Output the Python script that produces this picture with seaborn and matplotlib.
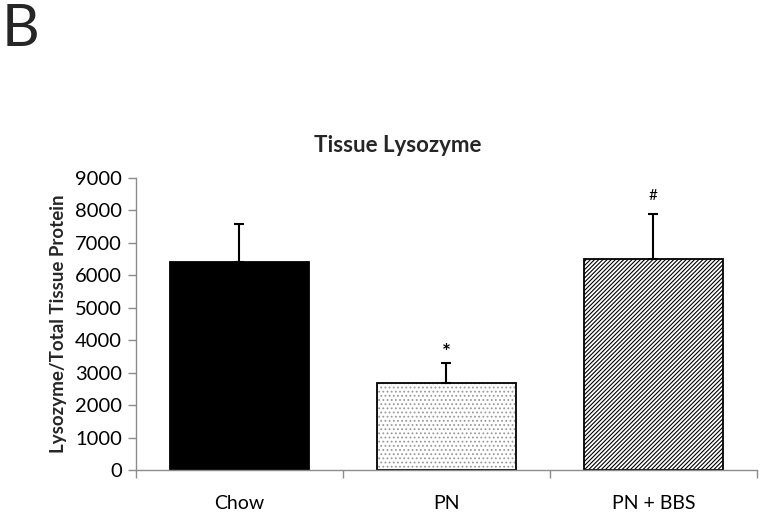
import matplotlib
matplotlib.use("Agg")
import matplotlib.pyplot as plt
import seaborn as sns
import numpy as np
import pandas as pd

categories = ["Chow", "PN", "PN + BBS"]
means = [6410, 2690, 6500]
sd_upper = [1170, 610, 1390]
marks = ["", "*", "#"]
yticks = [0, 1000, 2000, 3000, 4000, 5000, 6000, 7000, 8000, 9000]

sns.set_theme(style="white")
plt.rcParams['font.family'] = ['Lato', 'DejaVu Sans']
plt.rcParams['hatch.linewidth'] = 0.8

df = pd.DataFrame({"group": categories, "value": means})

fig = plt.figure(figsize=(7.64, 5.16), dpi=100)
ax = fig.add_axes([136/764, 1-470/516, (757-136)/764, (470-178)/516])

sns.barplot(data=df, x="group", y="value", ax=ax, order=categories,
            color="white", width=0.67, edgecolor="black", linewidth=1.3,
            errorbar=None)

patches = ax.patches
patches[0].set_facecolor("black")
patches[1].set_facecolor("white")
patches[1].set_hatch("....")
patches[1].set_edgecolor("black")
patches[2].set_facecolor("white")
patches[2].set_hatch("////////")

patches[1]._hatch_color = (0.6, 0.6, 0.6, 1.0)

xs = np.arange(len(categories))
ax.errorbar(xs, means, yerr=[np.zeros(len(means)), sd_upper], fmt="none",
            ecolor="black", elinewidth=1.5, capsize=3.5, capthick=1.5, zorder=5)

for x, m, s, t in zip(xs, means, sd_upper, marks):
    if t:
        off = 320 if t == "*" else 550
        ax.text(x, m + s + off, t, ha="center", va="center",
                fontsize=15 if t == "*" else 11, color="black",
                fontweight="bold" if t == "*" else "normal")

ax.set_ylim(0, 9000)
ax.set_xlim(-0.5, 2.5)
ax.set_yticks(yticks)
ax.set_yticklabels([str(v) for v in yticks], fontsize=14.5)
ax.set_xlabel("")
ax.set_ylabel("Lysozyme/Total Tissue Protein", fontsize=13.5, fontweight="bold", labelpad=6)

for sp in ["top", "right"]:
    ax.spines[sp].set_visible(False)
for sp in ["left", "bottom"]:
    ax.spines[sp].set_color("#8c8c8c")
    ax.spines[sp].set_linewidth(1.0)

ax.tick_params(axis="y", which="major", left=True, length=6, width=1, color="#8c8c8c", pad=4, labelcolor="black")
ax.set_xticks(xs)
ax.set_xticklabels(categories, fontsize=14)
ax.tick_params(axis="x", which="major", bottom=False, length=0, pad=18, labelcolor="black")
ax.set_xticks([-0.5, 0.5, 1.5, 2.5], minor=True)
ax.tick_params(axis="x", which="minor", bottom=True, length=6, width=1, color="#8c8c8c")

fig.text(398/764, 1-145/516, "Tissue Lysozyme", ha="center", va="center", fontsize=16, fontweight="bold")
fig.text(2/764, 1-30/516, "B", ha="left", va="center", fontsize=42)

fig.savefig("out.png", dpi=100)
